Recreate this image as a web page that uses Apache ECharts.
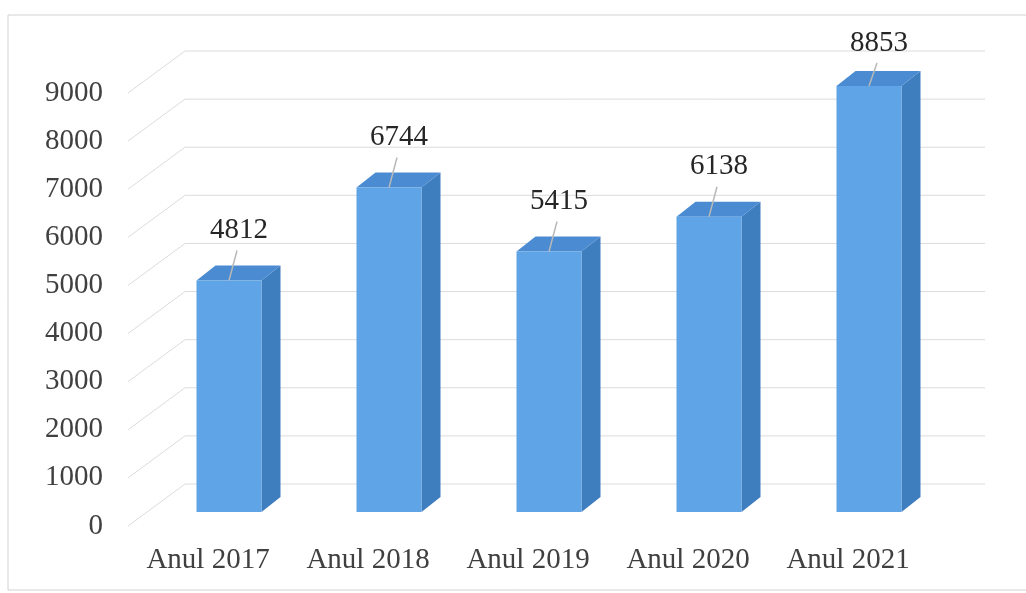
<!DOCTYPE html>
<html>
<head>
<meta charset="utf-8">
<script src="https://cdn.jsdelivr.net/npm/echarts@6/dist/echarts.min.js"></script>
<style>
  html, body { margin: 0; padding: 0; background: #fff; }
  #chart { width: 1026px; height: 593px; }
</style>
</head>
<body>
<div id="chart"></div>
<script>
const categories = ['Anul 2017', 'Anul 2018', 'Anul 2019', 'Anul 2020', 'Anul 2021']
const values = [4812, 6744, 5415, 6138, 8853]
const yTicks = [0, 1000, 2000, 3000, 4000, 5000, 6000, 7000, 8000, 9000]

// depth of the side wall (front plane -> back wall)
const WALL_DX = 57
const WALL_DY = -42
// bar front face sits a third into the depth
const BAR_DX = 21
const BAR_DY = -14
// bar thickness
const BAR_DEPTH_X = 19
const BAR_DEPTH_Y = -15
const BAR_W = 65

const chart = echarts.init(document.getElementById('chart'))

const font = 'Liberation Serif, Times New Roman, serif'

const option = {
  backgroundColor: '#ffffff',
  animation: false,
  graphic: [{
    type: 'rect',
    shape: { x: 8, y: 15, width: 1030, height: 575 },
    style: { fill: 'none', stroke: '#d2d2d2', lineWidth: 1 },
    z: -10
  }],
  grid: { left: 128, right: 98, top: 93, bottom: 67 },
  xAxis: {
    type: 'category',
    data: categories,
    axisLine: { show: false },
    axisTick: { show: false },
    axisLabel: { fontSize: 29, fontFamily: font, color: '#404040', margin: 20, interval: 0, hideOverlap: false }
  },
  yAxis: {
    type: 'value',
    min: 0,
    max: 9000,
    interval: 1000,
    axisLine: { show: false },
    axisTick: { show: false },
    splitLine: { show: false },
    axisLabel: { fontSize: 29, fontFamily: font, color: '#404040', margin: 25, formatter: v => String(v) }
  },
  series: [
    {
      // wall gridlines: diagonal on the side wall + horizontal on the back wall
      type: 'custom',
      silent: true,
      z: 1,
      data: yTicks.map(v => [0, v]),
      renderItem: (params, api) => {
        const cs = params.coordSys
        const y = api.coord([0, api.value(1)])[1]
        const style = { stroke: '#dcdcdc', lineWidth: 1 }
        return {
          type: 'group',
          children: [
            { type: 'line', shape: { x1: cs.x, y1: y, x2: cs.x + WALL_DX, y2: y + WALL_DY }, style },
            { type: 'line', shape: { x1: cs.x + WALL_DX, y1: y + WALL_DY, x2: cs.x + cs.width + WALL_DX, y2: y + WALL_DY }, style }
          ]
        }
      }
    },
    {
      type: 'custom',
      z: 2,
      data: values.map((v, i) => [i, v]),
      renderItem: (params, api) => {
        const base = api.coord([api.value(0), 0])
        const top = api.coord([api.value(0), api.value(1)])
        const cx = base[0] + BAR_DX
        const yb = base[1] + BAR_DY
        const yt = top[1] + BAR_DY
        const l = cx - BAR_W / 2
        const r = cx + BAR_W / 2
        const ly = Math.max(yt - 50, 43)
        return {
          type: 'group',
          children: [
            {
              type: 'polygon',
              shape: { points: [[r, yt], [r + BAR_DEPTH_X, yt + BAR_DEPTH_Y], [r + BAR_DEPTH_X, yb + BAR_DEPTH_Y], [r, yb]] },
              style: { fill: '#3e7dbe' }
            },
            {
              type: 'polygon',
              shape: { points: [[l, yt], [r, yt], [r + BAR_DEPTH_X, yt + BAR_DEPTH_Y], [l + BAR_DEPTH_X, yt + BAR_DEPTH_Y]] },
              style: { fill: '#4a8bd2' }
            },
            {
              type: 'rect',
              shape: { x: l, y: yt, width: BAR_W, height: yb - yt },
              style: { fill: '#5ea4e6' }
            },
            {
              type: 'line',
              shape: { x1: cx, y1: yt, x2: cx + 8, y2: ly + 20 },
              style: { stroke: '#b8b8b8', lineWidth: 1.5 }
            },
            {
              type: 'text',
              style: {
                x: cx + 10, y: ly,
                text: String(api.value(1)),
                align: 'center', verticalAlign: 'middle',
                fontSize: 29, fontFamily: font, fill: '#262626'
              }
            }
          ]
        }
      }
    }
  ]
}

chart.setOption(option)
</script>
</body>
</html>
